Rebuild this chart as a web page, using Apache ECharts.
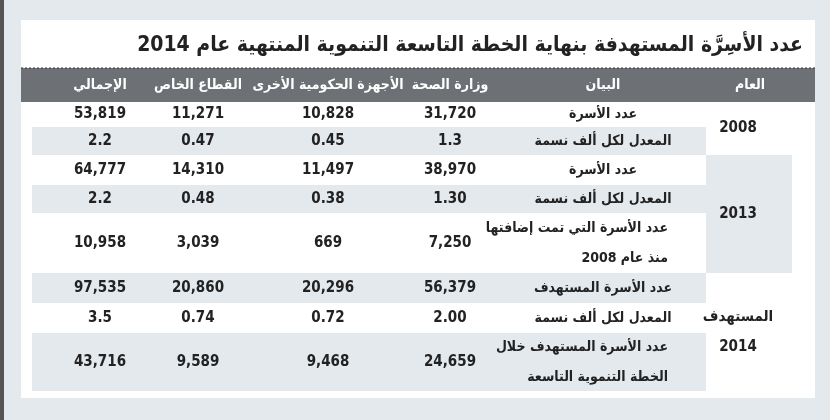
<!DOCTYPE html>
<html><head><meta charset="utf-8">
<script src="https://cdn.jsdelivr.net/npm/echarts@6/dist/echarts.min.js"></script>
<style>html,body{margin:0;padding:0;background:#e4e9ed}#main{width:830px;height:420px}</style>
</head><body><div id="main"></div>
<script>
var titleText = 'عدد الأسِرَّة المستهدفة بنهاية الخطة التاسعة التنموية المنتهية عام 2014';
var headers = ['العام', 'البيان', 'وزارة الصحة', 'الأجهزة الحكومية الأخرى', 'القطاع الخاص', 'الإجمالي'];
var yearGroups = [['2008'], ['2013'], ['المستهدف', '2014']];
var groupRows = [2, 3, 3];
var rowLabels = [
  ['عدد الأسرة'], ['المعدل لكل ألف نسمة'],
  ['عدد الأسرة'], ['المعدل لكل ألف نسمة'], ['عدد الأسرة التي تمت إضافتها', 'منذ عام 2008'],
  ['عدد الأسرة المستهدف'], ['المعدل لكل ألف نسمة'], ['عدد الأسرة المستهدف خلال', 'الخطة التنموية التاسعة']
];
var health = ['31,720', '1.3', '38,970', '1.30', '7,250', '56,379', '2.00', '24,659'];
var otherGov = ['10,828', '0.45', '11,497', '0.38', '669', '20,296', '0.72', '9,468'];
var privateSector = ['11,271', '0.47', '14,310', '0.48', '3,039', '20,860', '0.74', '9,589'];
var total = ['53,819', '2.2', '64,777', '2.2', '10,958', '97,535', '3.5', '43,716'];

var font = '"DejaVu Sans Condensed", "DejaVu Sans", sans-serif';
var rowEdges = [102, 127, 155, 185, 213, 273, 303, 333, 391];
var colX = [740, 603, 450, 328, 198, 100];
var shade = '#e4e9ed', ink = '#222';

function txt(x, y, s, opt) {
  return { type: 'text', x: x, y: y, style: Object.assign({
    text: s, fill: ink, font: '15px ' + font, align: 'center', verticalAlign: 'middle'
  }, opt || {}) };
}

var g = [];
g.push({ type: 'rect', shape: { x: 21, y: 20, width: 794, height: 378 }, style: { fill: '#fff' } });
g.push({ type: 'rect', shape: { x: 0, y: 0, width: 4, height: 420 }, style: { fill: '#555' } });
g.push({ type: 'rect', shape: { x: 21, y: 68, width: 794, height: 34 }, style: { fill: '#6d7074' } });
g.push({ type: 'line', shape: { x1: 21, y1: 68, x2: 815, y2: 68 }, style: { stroke: '#333', lineDash: [2, 2], lineWidth: 1 } });
headers.forEach(function (h, i) {
  g.push(txt(i === 0 ? 750 : colX[i], 85, h, { fill: '#fff', font: 'bold 14px ' + font }));
});
var r = 0;
groupRows.forEach(function (n, gi) {
  var top = rowEdges[r], bot = rowEdges[r + n];
  if (gi === 1) g.push({ type: 'rect', shape: { x: 706, y: top, width: 86, height: bot - top }, style: { fill: shade } });
  for (var k = 0; k < n; k++) {
    var idx = r + k;
    if ((gi === 1 && k === 1) || (gi !== 1 && k % 2 === (gi === 0 ? 1 : 0)))
      g.push({ type: 'rect', shape: { x: 32, y: rowEdges[idx], width: 674, height: rowEdges[idx + 1] - rowEdges[idx] }, style: { fill: shade } });
  }
  var yc = (top + bot) / 2, ys = yearGroups[gi];
  ys.forEach(function (s, j) {
    g.push(txt(738, yc + (j - (ys.length - 1) / 2) * 30, s, { font: 'bold 15px ' + font }));
  });
  r += n;
});
for (var i = 0; i < rowLabels.length; i++) {
  var yc = (rowEdges[i] + rowEdges[i + 1]) / 2;
  rowLabels[i].forEach(function (s, j) {
    var L = rowLabels[i].length;
    g.push(txt(L > 1 ? 668 : 603, yc + (j - (L - 1) / 2) * 30, s, { align: L > 1 ? 'right' : 'center', font: 'bold 14px ' + font }));
  });
  [health, otherGov, privateSector, total].forEach(function (arr, c) {
    g.push(txt(colX[c + 2], yc, arr[i], { font: 'bold 15px ' + font }));
  });
}

var chart = echarts.init(document.getElementById('main'));
chart.setOption({
  backgroundColor: '#e4e9ed',
  title: { text: titleText, right: 22, top: 30, textStyle: { fontFamily: font, fontSize: 21, fontWeight: 'bold', color: '#222' } },
  graphic: g
});
</script></body></html>
